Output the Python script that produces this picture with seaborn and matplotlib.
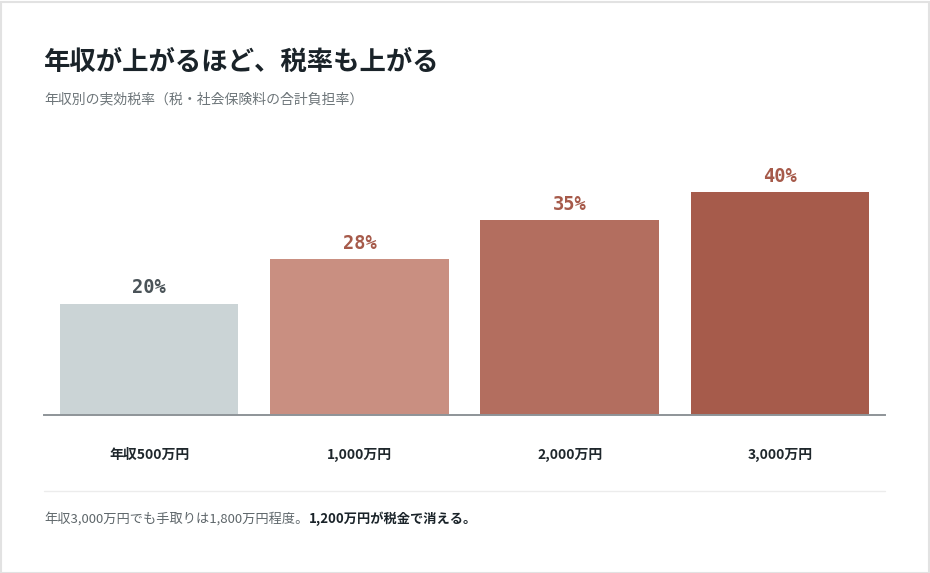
import pandas as pd
import matplotlib.pyplot as plt
import seaborn as sns
from matplotlib.patches import Rectangle
from matplotlib.lines import Line2D

# Data
income_labels = ["年収500万円", "1,000万円", "2,000万円", "3,000万円"]
tax_rates = [20, 28, 35, 40]
bar_colors = ["#cbd4d6", "#c98f81", "#b36e5f", "#a65b4b"]
label_colors = ["#4a5358", "#a65a4a", "#a65a4a", "#a65a4a"]

title = "年収が上がるほど、税率も上がる"
subtitle = "年収別の実効税率（税・社会保険料の合計負担率）"
note_regular = "年収3,000万円でも手取りは1,800万円程度。"
note_bold = "1,200万円が税金で消える。"

df = pd.DataFrame({"income": income_labels, "rate": tax_rates})

sns.set_theme(style="white")
plt.rcParams['font.family'] = ['Noto Sans CJK JP', 'DejaVu Sans']

W, H = 930, 573
fig = plt.figure(figsize=(W / 100, H / 100), dpi=100)
fig.patch.set_facecolor("white")

# axes: x 44..885, baseline at y=415
top_px = 120
ax = fig.add_axes([44 / W, 1 - 415 / H, (885 - 44) / W, (415 - top_px) / H])
sns.barplot(data=df, x="income", y="rate", hue="income", palette=bar_colors,
            width=0.85, legend=False, saturation=1, linewidth=0, ax=ax)
ax.set_xlim(-0.5, 3.5)
ax.set_ylim(0, (415 - top_px) / 5.57)

for i, (v, c) in enumerate(zip(tax_rates, label_colors)):
    ax.annotate(f"{v}%", xy=(i, v), xytext=(0, 4.5), textcoords="offset points",
                ha="center", va="bottom", fontsize=13.5, fontweight="bold",
                color=c, family=["DejaVu Sans Mono"])

ax.set_xlabel("")
ax.set_ylabel("")
ax.set_yticks([])
ax.set_xticks(range(len(income_labels)))
ax.set_xticklabels(income_labels, fontsize=10, fontweight="bold", color="#1f272c")
ax.tick_params(axis="x", length=0, pad=24)
for s in ["top", "right", "left"]:
    ax.spines[s].set_visible(False)
ax.spines["bottom"].set_color("#8e9498")
ax.spines["bottom"].set_linewidth(1.4)
ax.set_facecolor("white")

# titles
fig.text(44 / W, 1 - 62 / H, title, fontsize=19, fontweight="bold",
         color="#1a2329", va="center", ha="left")
fig.text(44 / W, 1 - 99 / H, subtitle, fontsize=10, color="#6d7579",
         va="center", ha="left")

# divider and footnote
fig.add_artist(Line2D([44 / W, 885 / W], [1 - 491 / H, 1 - 491 / H],
                      transform=fig.transFigure, color="#ececec", linewidth=1))
t1 = fig.text(44 / W, 1 - 519 / H, note_regular, fontsize=9.5, color="#5f676b",
              va="center", ha="left")
fig.canvas.draw()
bb = t1.get_window_extent()
fig.text(bb.x1 / W, 1 - 519 / H, note_bold, fontsize=9.5, fontweight="bold",
         color="#1a2329", va="center", ha="left")

# border
fig.add_artist(Rectangle((0.5 / W, 0.5 / H), 1 - 2 / W, 1 - 2 / H,
                         transform=fig.transFigure, fill=False,
                         edgecolor="#e2e2e2", linewidth=1.5))

fig.savefig("out.png", dpi=100, facecolor="white")
